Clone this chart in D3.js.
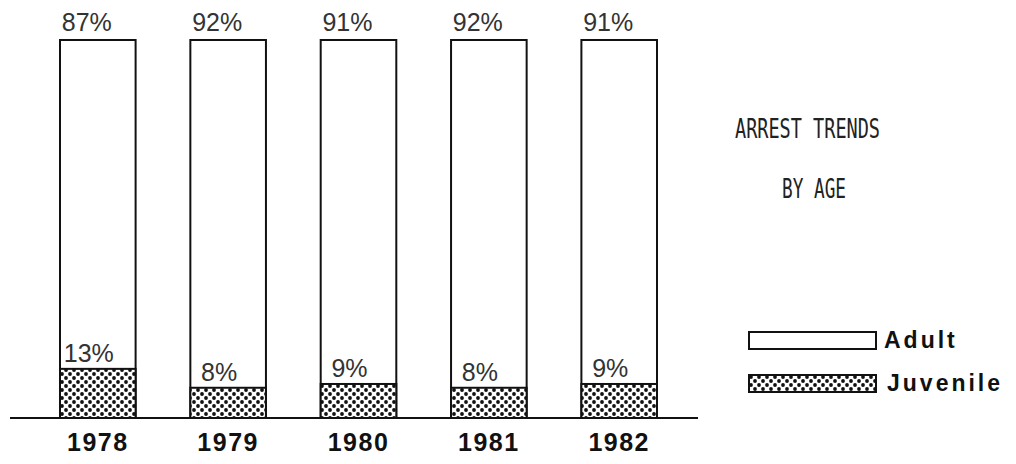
<!DOCTYPE html>
<html>
<head>
<script src="https://cdn.jsdelivr.net/npm/d3@7"></script>
<style>
body { margin: 0; background: #fff; }
.bar { stroke: #111; stroke-width: 2; }
.pct { font-family: "Liberation Sans", Arial, sans-serif; font-size: 25px; fill: #333; }
.year { font-family: "Liberation Sans", Arial, sans-serif; font-size: 25px; font-weight: bold; fill: #111; letter-spacing: 1.5px; }
.title { font-family: "DejaVu Sans Mono", monospace; font-size: 27px; fill: #222; }
.leg { font-family: "Liberation Sans", Arial, sans-serif; font-size: 23px; font-weight: bold; fill: #111; letter-spacing: 3px; }
</style>
</head>
<body>
<div id="chart"></div>
<script>
var years = ["1978", "1979", "1980", "1981", "1982"];
var adult = [87, 92, 91, 92, 91];
var juvenile = [13, 8, 9, 8, 9];
var seriesNames = ["Adult", "Juvenile"];

var w = 1016, h = 464;

var svg = d3.select("#chart").append("svg")
    .attr("width", w)
    .attr("height", h);

// dotted fill for juvenile
var defs = svg.append("defs");
var pat = defs.append("pattern")
    .attr("id", "dots")
    .attr("patternUnits", "userSpaceOnUse")
    .attr("width", 8)
    .attr("height", 8);
pat.append("rect").attr("width", 8).attr("height", 8).attr("fill", "#fff");
pat.append("circle").attr("cx", 2).attr("cy", 2).attr("r", 1.9).attr("fill", "#111");
pat.append("circle").attr("cx", 6).attr("cy", 6).attr("r", 1.9).attr("fill", "#111");

var x = d3.scaleBand()
    .domain(years)
    .range([60, 657])
    .paddingInner(0.42)
    .paddingOuter(0);

var y = d3.scaleLinear()
    .domain([0, 100])
    .range([418, 40]);

var data = years.map(function(d, i) {
  return {year: d, adult: adult[i], juvenile: juvenile[i]};
});

// adult (whole bar, white)
svg.selectAll("rect.adult")
    .data(data)
  .enter().append("rect")
    .attr("class", "bar adult")
    .attr("x", function(d) { return x(d.year); })
    .attr("y", function(d) { return y(d.adult + d.juvenile); })
    .attr("width", x.bandwidth())
    .attr("height", function(d) { return y(0) - y(d.adult + d.juvenile); })
    .attr("fill", "#fff");

// juvenile (bottom, dotted)
svg.selectAll("rect.juv")
    .data(data)
  .enter().append("rect")
    .attr("class", "bar juv")
    .attr("x", function(d) { return x(d.year); })
    .attr("y", function(d) { return y(d.juvenile); })
    .attr("width", x.bandwidth())
    .attr("height", function(d) { return y(0) - y(d.juvenile); })
    .attr("fill", "url(#dots)");

// baseline
svg.append("line")
    .attr("x1", 10).attr("x2", 698)
    .attr("y1", y(0)).attr("y2", y(0))
    .attr("stroke", "#111")
    .attr("stroke-width", 2);

// percent labels
svg.selectAll("text.pa")
    .data(data)
  .enter().append("text")
    .attr("class", "pct")
    .attr("x", function(d) { return x(d.year) + x.bandwidth() / 2 - 11; })
    .attr("y", function(d) { return y(d.adult + d.juvenile) - 9; })
    .attr("text-anchor", "middle")
    .text(function(d) { return d.adult + "%"; });

svg.selectAll("text.pj")
    .data(data)
  .enter().append("text")
    .attr("class", "pct")
    .attr("x", function(d) { return x(d.year) + x.bandwidth() / 2 - 9; })
    .attr("y", function(d) { return y(d.juvenile) - 7; })
    .attr("text-anchor", "middle")
    .text(function(d) { return d.juvenile + "%"; });

// year axis labels
var xAxis = d3.axisBottom(x).tickSize(0).tickPadding(0);
var gx = svg.append("g")
    .attr("transform", "translate(0," + 433 + ")")
    .call(xAxis);
gx.select(".domain").remove();
gx.attr("font-size", null).attr("font-family", null);
gx.selectAll("text")
    .attr("class", "year")
    .attr("dy", "0.71em");

// title
svg.append("text")
    .attr("class", "title")
    .attr("x", 735).attr("y", 138)
    .attr("textLength", 145)
    .attr("lengthAdjust", "spacingAndGlyphs")
    .text("ARREST TRENDS");
svg.append("text")
    .attr("class", "title")
    .attr("x", 782).attr("y", 198)
    .attr("textLength", 64)
    .attr("lengthAdjust", "spacingAndGlyphs")
    .text("BY AGE");

// legend
var legend = svg.append("g").attr("transform", "translate(749,332)");
var legItems = legend.selectAll("g")
    .data(seriesNames)
  .enter().append("g")
    .attr("transform", function(d, i) { return "translate(0," + (i * 43) + ")"; });
legItems.append("rect")
    .attr("class", "bar")
    .attr("width", 127)
    .attr("height", 17)
    .attr("fill", function(d, i) { return i === 0 ? "#fff" : "url(#dots)"; });
legItems.append("text")
    .attr("class", "leg")
    .attr("x", function(d, i) { return i === 0 ? 135 : 138; })
    .attr("y", 16)
    .text(function(d) { return d; });
</script>
</body>
</html>
